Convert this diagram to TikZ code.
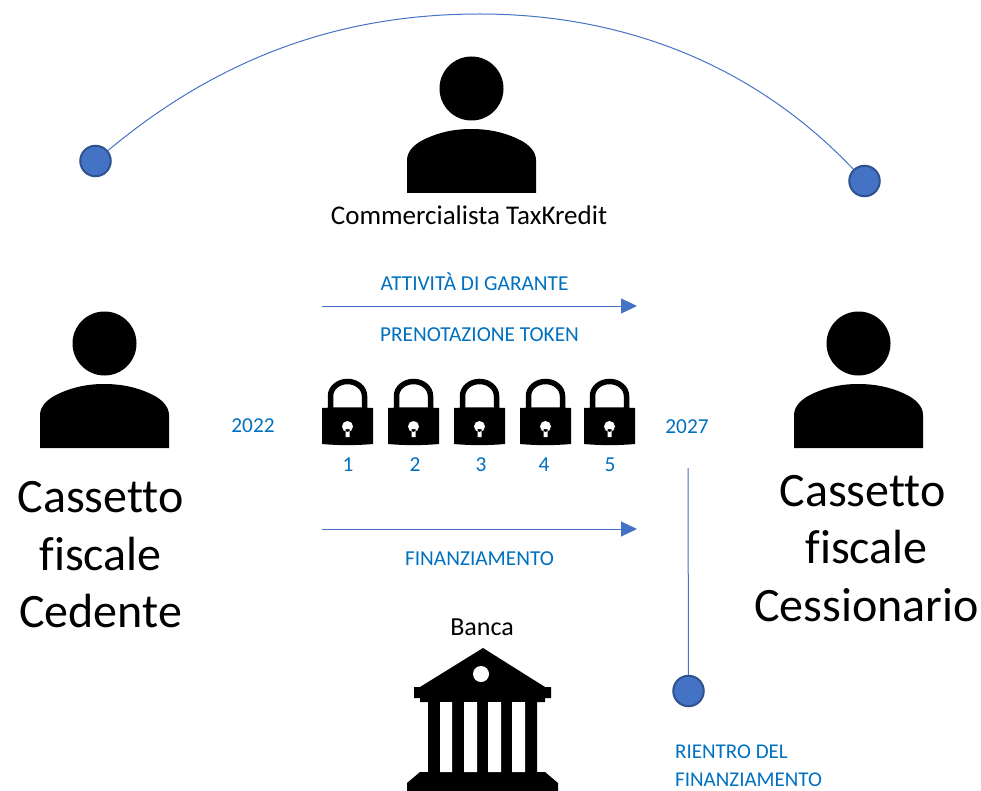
\documentclass[tikz,border=0pt]{standalone}
\usepackage{fontspec}
\setmainfont[Ligatures=CommonOff]{Carlito}
\usetikzlibrary{arrows.meta}
\definecolor{accentblue}{HTML}{4472C4}
\definecolor{edgeblue}{HTML}{2F528F}
\definecolor{textblue}{HTML}{0070C0}
\tikzset{
  x=1pt,y=-1pt,
  dot/.style={circle,fill=accentblue,draw=edgeblue,line width=2pt,minimum size=30.5pt,inner sep=0pt},
  link/.style={draw=accentblue,line width=1pt},
  flow/.style={link,-{Triangle[length=16pt,width=15pt]}},
  lab/.style={text=textblue,font=\fontsize{21.3}{25}\selectfont,inner sep=0pt,align=left},
  big/.style={font=\fontsize{48}{57.5}\selectfont,align=center,inner sep=0pt},
  person/.pic={
    \fill (64.5,-104.5) circle (32);
    \fill (0,0) -- (0,-33) .. controls (0,-42) and (8,-49) .. (16,-53)
      .. controls (32,-61) and (48,-64) .. (64,-64)
      .. controls (81,-64) and (97,-61) .. (113,-53)
      .. controls (121,-49) and (129,-42) .. (129,-33) -- (129,0) -- cycle;
  },
  padlock/.pic={
    \draw[line width=5.5pt] (8.5,30) -- (8.5,17) arc[start angle=180,end angle=0,x radius=17,y radius=-14.5] -- (42.5,30);
    \fill (0,29) .. controls (17,28) and (34,28) .. (51,29) -- (51,65) .. controls (34,66.5) and (17,66.5) .. (0,65) -- cycle;
    \fill[white] (25.5,47.5) circle (5.5) (23.5,50) rectangle (27.5,58);
  }
}
\begin{document}
\begin{tikzpicture}
\useasboundingbox (0,0) rectangle (981,791);
% persons
\pic at (40,448) {person};
\pic at (407,193) {person};
\pic at (794,448) {person};
% connectors
\node[dot] (d1) at (95.5,161) {};
\node[dot] (d2) at (864.5,181) {};
\node[dot] (d3) at (688.5,691) {};
\coordinate (v0) at (688,468);
\coordinate (a1s) at (322,306);
\coordinate (a1e) at (637,306);
\coordinate (a2s) at (322,529);
\coordinate (a2e) at (637,529);
\draw[link] (d1) .. controls (240,40) and (370,14) .. (480,14) .. controls (600,14) and (740,50) .. (d2);
\draw[flow] (a1s) -- (a1e);
\draw[flow] (a2s) -- (a2e);
\draw[link] (v0) -- (d3);
% texts
\node[inner sep=0pt,font=\fontsize{27}{32}\selectfont] (ct) at (469,215) {Commercialista TaxKredit};
\node[lab] (l1) at (474.5,281.5) {ATTIVITÀ DI GARANTE};
\node[lab] (l2) at (479.5,335) {PRENOTAZIONE TOKEN};
\node[lab] (l3) at (479.5,559) {FINANZIAMENTO};
\node[lab] (y1) at (253,426) {2022};
\node[lab] (y2) at (687,427) {2027};
\node[big] (c1) at (100.5,555) {Cassetto\\fiscale\\Cedente};
\node[big] (c2) at (866.5,548.5) {\mbox{Cassetto\hspace{8pt}}\\fiscale\\Cessionario};
\node[inner sep=0pt,font=\fontsize{26}{31}\selectfont] (bk) at (482,627) {Banca};
\node[lab,anchor=west,font=\fontsize{21}{28}\selectfont] (r) at (675,765.5) {RIENTRO DEL\\FINANZIAMENTO};
% locks
\pic at (322,379) {padlock};
\pic at (388,379) {padlock};
\pic at (454,379) {padlock};
\pic at (520,379) {padlock};
\pic at (584,379) {padlock};
\node[lab] (n1) at (348,465) {1};
\node[lab] (n2) at (415,465) {2};
\node[lab] (n3) at (481,465) {3};
\node[lab] (n4) at (544,465) {4};
\node[lab] (n5) at (610,465) {5};
% bank
\fill (483,648) -- (545,687) -- (551,687) -- (551,698) -- (545,698) -- (545,702) -- (537,702) -- (537,772)
  -- (545,772) -- (558,783) -- (558,791) -- (407,791) -- (407,783) -- (420,772)
  -- (428,772) -- (428,702) -- (420,702) -- (420,698) -- (414,698) -- (414,687) -- (420,687) -- cycle;
\fill[white] (481,674) circle (8);
\fill[white] (440,702) rectangle (452,772) (464,702) rectangle (477,772)
  (488,702) rectangle (501,772) (512,702) rectangle (525,772);
\end{tikzpicture}
\end{document}
